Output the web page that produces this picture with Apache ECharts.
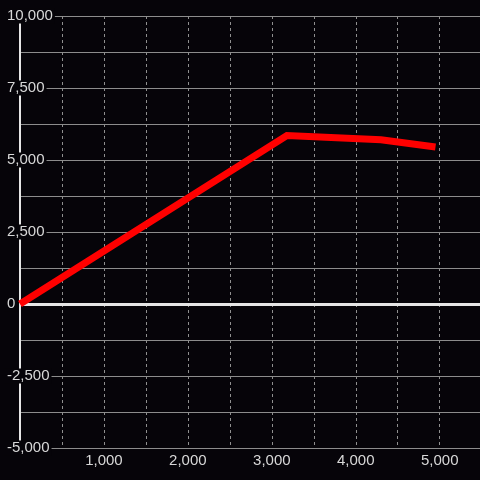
<!DOCTYPE html>
<html>
<head>
<meta charset="utf-8">
<script src="https://cdn.jsdelivr.net/npm/echarts@6/dist/echarts.min.js"></script>
<style>
html,body{margin:0;padding:0;background:#060409;}
#chart{width:480px;height:480px;}
</style>
</head>
<body>
<div id="chart"></div>
<script>
var xValues = [0, 3180, 4300, 4950];
var yValues = [0, 5850, 5700, 5450];
var xMin = 0, xMax = 5480, xStep = 1000;
var yMin = -5000, yMax = 10000, yStep = 2500;
var zeroLine = 0;

function fmt(v) {
  return v.toLocaleString('en-US');
}

var chart = echarts.init(document.getElementById('chart'));
chart.setOption({
  backgroundColor: '#060409',
  animation: false,
  grid: { left: 20, right: 0, top: 16, bottom: 32, containLabel: false },
  xAxis: {
    type: 'value',
    min: xMin, max: xMax, interval: xStep,
    axisLine: { show: false },
    axisTick: { show: false },
    minorTick: { show: false, splitNumber: 2 },
    splitLine: { show: true, lineStyle: { color: '#8f8f8f', type: [3, 3], width: 1 } },
    minorSplitLine: { show: true, lineStyle: { color: '#8f8f8f', type: [3, 3], width: 1 } },
    axisLabel: {
      color: '#d8d8d8', fontSize: 15, fontFamily: 'Liberation Sans', margin: 5,
      showMaxLabel: false,
      formatter: function (v) { return (v === 0 || v % 1000 !== 0) ? '' : fmt(v); }
    }
  },
  yAxis: {
    type: 'value',
    min: yMin, max: yMax, interval: yStep,
    axisLine: { show: true, onZero: false, lineStyle: { color: '#e6e6e6', width: 2 } },
    axisTick: { show: false },
    minorTick: { show: false, splitNumber: 2 },
    splitLine: { show: true, lineStyle: { color: '#8c8c8c', width: 1 } },
    minorSplitLine: { show: true, lineStyle: { color: '#8c8c8c', width: 1 } },
    axisLabel: {
      color: '#d8d8d8', fontSize: 15, fontFamily: 'Liberation Sans',
      align: 'left', margin: 16,
      backgroundColor: '#060409', padding: [0, 2, 0, 3],
      formatter: function (v) { return fmt(v); }
    }
  },
  series: [{
    type: 'line',
    data: xValues.map(function (x, i) { return [x, yValues[i]]; }),
    showSymbol: false,
    symbol: 'none',
    lineStyle: { color: '#ff0000', width: 7, cap: 'butt', join: 'miter' },
    z: 3,
    markLine: {
      silent: true,
      symbol: 'none',
      z: 1,
      label: { show: false },
      lineStyle: { color: '#e6e6e6', width: 3, type: 'solid' },
      data: [{ yAxis: zeroLine }]
    }
  }]
});
</script>
</body>
</html>
